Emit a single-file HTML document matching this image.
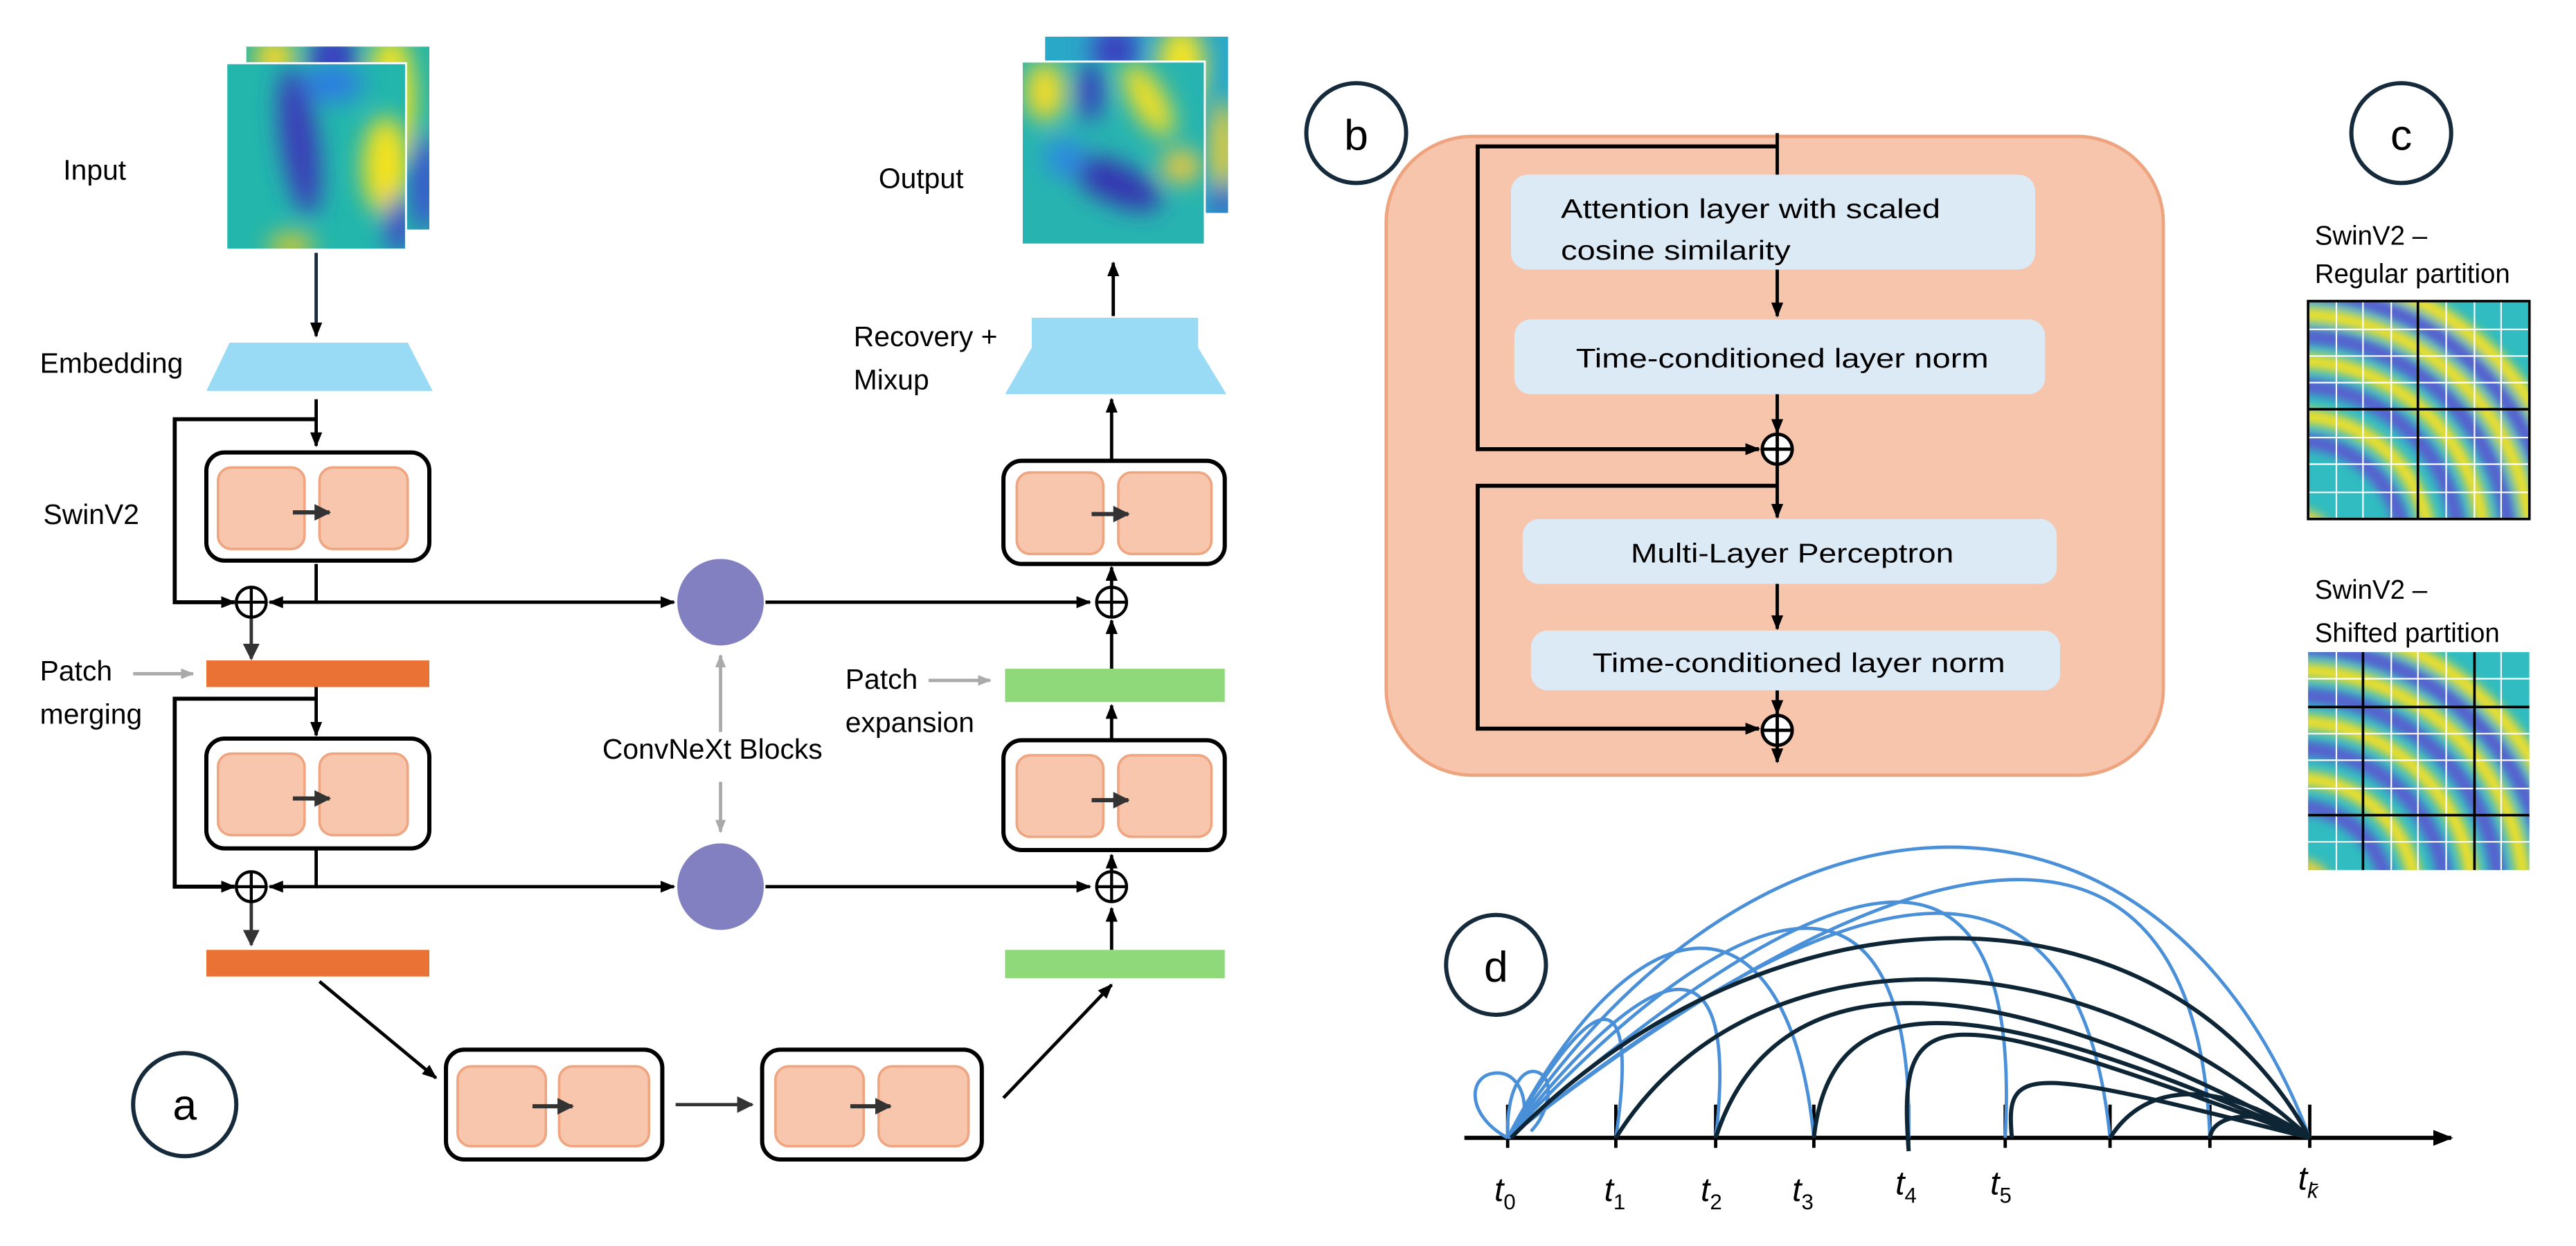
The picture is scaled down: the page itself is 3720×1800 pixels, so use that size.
<!DOCTYPE html>
<html><head><meta charset="utf-8"><style>html,body{margin:0;padding:0;background:#fff}svg{display:block}text{font-family:"Liberation Sans",sans-serif}</style></head>
<body>
<svg width="3720" height="1800" viewBox="0 0 1548 749" preserveAspectRatio="none" xmlns="http://www.w3.org/2000/svg">
<defs>
<marker id="ah" viewBox="0 0 10 10" refX="9" refY="5" markerWidth="9" markerHeight="9" markerUnits="userSpaceOnUse" orient="auto"><path d="M0,1 L10,5 L0,9 z" fill="#000"/></marker>
<marker id="ad" viewBox="0 0 10 10" refX="9" refY="5" markerWidth="10" markerHeight="10" markerUnits="userSpaceOnUse" orient="auto"><path d="M0,0 L10,5 L0,10 z" fill="#333"/></marker>
<marker id="ag" viewBox="0 0 10 10" refX="9" refY="5" markerWidth="8" markerHeight="8" markerUnits="userSpaceOnUse" orient="auto"><path d="M0,1 L10,5 L0,9 z" fill="#aaa"/></marker>
<marker id="ax" viewBox="0 0 10 10" refX="9" refY="5" markerWidth="12" markerHeight="12" markerUnits="userSpaceOnUse" orient="auto"><path d="M0,1 L10,5 L0,9 z" fill="#000"/></marker>
<filter id="bl" x="-50%" y="-50%" width="200%" height="200%"><feGaussianBlur stdDeviation="7"/></filter>
<filter id="bl2" x="-50%" y="-50%" width="200%" height="200%"><feGaussianBlur stdDeviation="3"/></filter>
<clipPath id="cIn1"><rect x="148" y="28" width="110" height="110"/></clipPath>
<clipPath id="cIn2"><rect x="136" y="38" width="108" height="112"/></clipPath>
<clipPath id="cOut1"><rect x="628" y="22" width="110" height="106"/></clipPath>
<clipPath id="cOut2"><rect x="614" y="37" width="110" height="110"/></clipPath>
<clipPath id="cG1"><rect x="1387" y="181" width="133" height="131"/></clipPath>
<clipPath id="cG2"><rect x="1387" y="392" width="133" height="131"/></clipPath>
</defs>

<!-- Input images -->
<g clip-path="url(#cIn1)">
<rect x="148" y="28" width="110" height="110" fill="#25b5a8"/>
<g filter="url(#bl)"><ellipse cx="200" cy="40" rx="14" ry="25" fill="#3a3fc0"/><ellipse cx="235" cy="60" rx="14" ry="40" fill="#f5e423"/><ellipse cx="255" cy="110" rx="8" ry="30" fill="#3a48d0"/><ellipse cx="165" cy="35" rx="12" ry="14" fill="#f4d72a"/></g>
</g>
<g clip-path="url(#cIn2)">
<rect x="136" y="38" width="108" height="112" fill="#22b6ad"/>
<g filter="url(#bl)"><ellipse cx="180" cy="85" rx="11" ry="45" fill="#3b3bb8" transform="rotate(-8 180 85)"/><ellipse cx="232" cy="100" rx="14" ry="30" fill="#f6e21c"/><ellipse cx="240" cy="135" rx="8" ry="18" fill="#3f45c8"/><ellipse cx="200" cy="50" rx="18" ry="12" fill="#2f7ee0"/><ellipse cx="175" cy="148" rx="14" ry="8" fill="#d6c832"/></g>
</g>
<rect x="136" y="38" width="108" height="112" fill="none" stroke="#fff" stroke-width="1.2"/>

<!-- Output images -->
<g clip-path="url(#cOut1)">
<rect x="628" y="22" width="110" height="106" fill="#2aa8c8"/>
<g filter="url(#bl)"><ellipse cx="670" cy="30" rx="14" ry="15" fill="#3a3fc0"/><ellipse cx="710" cy="40" rx="14" ry="25" fill="#f5e423"/><ellipse cx="735" cy="90" rx="8" ry="30" fill="#f0d030"/><ellipse cx="735" cy="120" rx="6" ry="10" fill="#3a40c0"/></g>
</g>
<g clip-path="url(#cOut2)">
<rect x="614" y="37" width="110" height="110" fill="#27b4b0"/>
<g filter="url(#bl)"><ellipse cx="628" cy="55" rx="12" ry="18" fill="#f5dc25"/><ellipse cx="655" cy="55" rx="8" ry="18" fill="#3a3dbd"/><ellipse cx="690" cy="60" rx="10" ry="25" fill="#f6e020" transform="rotate(-30 690 60)"/><ellipse cx="670" cy="110" rx="30" ry="12" fill="#3535b0" transform="rotate(25 670 110)"/><ellipse cx="710" cy="100" rx="12" ry="10" fill="#f2c83a"/><ellipse cx="640" cy="95" rx="12" ry="12" fill="#2f8ae0"/></g>
</g>
<rect x="614" y="37" width="110" height="110" fill="none" stroke="#fff" stroke-width="1.2"/>

<g font-size="17" fill="#000">
<text x="38" y="108">Input</text>
<text x="24" y="224">Embedding</text>
<text x="26" y="315">SwinV2</text>
<text x="24" y="409">Patch</text>
<text x="24" y="435">merging</text>
<text x="528" y="113">Output</text>
<text x="513" y="208">Recovery +</text>
<text x="513" y="234">Mixup</text>
<text x="508" y="414">Patch</text>
<text x="508" y="440">expansion</text>
<text x="362" y="456">ConvNeXt Blocks</text>
</g>

<!-- panel a -->
<g fill="none" stroke="#000" stroke-width="2">
<path d="M190,152 V202" stroke="#1a2a3a" marker-end="url(#ah)"/>
<path d="M190,240 V268" marker-end="url(#ah)"/>
<path d="M190,252 H105 V362 H141" stroke-width="2.4" marker-end="url(#ah)"/>
<path d="M190,339 V362 H162" marker-end="url(#ah)"/>
<path d="M190,362 H405" marker-end="url(#ah)"/>
<path d="M151,371 V396" stroke="#333" marker-end="url(#ad)"/>
<path d="M190,413 V442" marker-end="url(#ah)"/>
<path d="M190,420 H105 V533 H141" stroke-width="2.4" marker-end="url(#ah)"/>
<path d="M190,510 V533 H162" marker-end="url(#ah)"/>
<path d="M190,533 H405" marker-end="url(#ah)"/>
<path d="M151,542 V568" stroke="#333" marker-end="url(#ad)"/>
<path d="M192,590 L262,648" marker-end="url(#ah)"/>
<path d="M406,664 H452" stroke="#333" marker-end="url(#ad)"/>
<path d="M603,660 L668,592" marker-end="url(#ah)"/>
<path d="M668,571 V546" marker-end="url(#ah)"/>
<path d="M460,533 H655" marker-end="url(#ah)"/>
<path d="M668,524 V514" marker-end="url(#ah)"/>
<path d="M668,445 V424" marker-end="url(#ah)"/>
<path d="M668,402 V373" marker-end="url(#ah)"/>
<path d="M460,362 H655" marker-end="url(#ah)"/>
<path d="M668,353 V341" marker-end="url(#ah)"/>
<path d="M668,277 V240" marker-end="url(#ah)"/>
<path d="M669,190 V158" marker-end="url(#ah)"/>
<path d="M80,405 H116" stroke="#aaa" marker-end="url(#ag)"/>
<path d="M558,409 H595" stroke="#aaa" marker-end="url(#ag)"/>
<path d="M433,440 V394" stroke="#aaa" marker-end="url(#ag)"/>
<path d="M433,470 V500" stroke="#aaa" marker-end="url(#ag)"/>
</g>
<polygon points="138,206 245,206 260,235 124,235" fill="#99dbf5"/>
<polygon points="620,191 720,191 720,209 737,237 604,237 620,209" fill="#99dbf5"/>
<rect x="124" y="397" width="134" height="16" fill="#e97234"/>
<rect x="124" y="571" width="134" height="16" fill="#e97234"/>
<rect x="604" y="402" width="132" height="20" fill="#8fd97b"/>
<rect x="604" y="571" width="132" height="17" fill="#8fd97b"/>
<circle cx="433" cy="362" r="26" fill="#8280c0"/>
<circle cx="433" cy="533" r="26" fill="#8280c0"/>

<g>
<g stroke="#000" stroke-width="2.5" fill="#fff">
<rect x="124" y="272" width="134" height="65" rx="11"/>
<rect x="124" y="444" width="134" height="66" rx="11"/>
<rect x="268" y="631" width="130" height="66" rx="11"/>
<rect x="458" y="631" width="132" height="66" rx="11"/>
<rect x="603" y="445" width="133" height="66" rx="11"/>
<rect x="603" y="277" width="133" height="62" rx="11"/>
</g>
<g fill="#f7c6ad" stroke="#efa57f" stroke-width="1.5">
<rect x="131" y="281" width="52" height="49" rx="8"/><rect x="192" y="281" width="53" height="49" rx="8"/>
<rect x="131" y="453" width="52" height="49" rx="8"/><rect x="192" y="453" width="53" height="49" rx="8"/>
<rect x="275" y="641" width="53" height="48" rx="8"/><rect x="336" y="641" width="54" height="48" rx="8"/>
<rect x="466" y="641" width="53" height="48" rx="8"/><rect x="528" y="641" width="54" height="48" rx="8"/>
<rect x="611" y="454" width="52" height="49" rx="8"/><rect x="672" y="454" width="56" height="49" rx="8"/>
<rect x="611" y="284" width="52" height="49" rx="8"/><rect x="672" y="284" width="56" height="49" rx="8"/>
</g>
<g stroke="#333" stroke-width="2.5" fill="none">
<path d="M176,308 H198" marker-end="url(#ad)"/>
<path d="M176,480 H198" marker-end="url(#ad)"/>
<path d="M320,665 H344" marker-end="url(#ad)"/>
<path d="M511,665 H535" marker-end="url(#ad)"/>
<path d="M656,481 H678" marker-end="url(#ad)"/>
<path d="M656,309 H678" marker-end="url(#ad)"/>
</g>
</g>

<!-- plus circles -->
<g stroke="#000" stroke-width="1.8" fill="#fff">
<g><circle cx="151" cy="362" r="9"/><path d="M142,362 H160 M151,353 V371"/></g>
<g><circle cx="151" cy="533" r="9"/><path d="M142,533 H160 M151,524 V542"/></g>
<g><circle cx="668" cy="362" r="9"/><path d="M659,362 H677 M668,353 V371"/></g>
<g><circle cx="668" cy="533" r="9"/><path d="M659,533 H677 M668,524 V542"/></g>
</g>

<!-- panel b -->
<rect x="833" y="82" width="467" height="384" rx="52" fill="#f6c5ab" stroke="#eea47f" stroke-width="2"/>
<g fill="none" stroke="#000" stroke-width="2">
<path d="M1068,80 V105"/>
<path d="M1068,88 H888 V270 H1057" stroke-width="2.4" marker-end="url(#ah)"/>
<path d="M1068,162 V190" marker-end="url(#ah)"/>
<path d="M1068,237 V260" marker-end="url(#ah)"/>
<path d="M1068,279 V311" marker-end="url(#ah)"/>
<path d="M1068,292 H888 V438 H1057" stroke-width="2.4" marker-end="url(#ah)"/>
<path d="M1068,351 V378" marker-end="url(#ah)"/>
<path d="M1068,415 V429" marker-end="url(#ah)"/>
<path d="M1068,448 V458" marker-end="url(#ah)"/>
</g>
<g fill="#dceaf6">
<rect x="908" y="105" width="315" height="57" rx="10"/>
<rect x="910" y="192" width="319" height="45" rx="10"/>
<rect x="915" y="312" width="321" height="39" rx="10"/>
<rect x="920" y="379" width="318" height="36" rx="10"/>
</g>
<g font-size="16" fill="#000">
<text x="938" y="131" textLength="228" lengthAdjust="spacingAndGlyphs">Attention layer with scaled</text>
<text x="938" y="156" textLength="138" lengthAdjust="spacingAndGlyphs">cosine similarity</text>
<text x="947" y="221" textLength="248" lengthAdjust="spacingAndGlyphs">Time-conditioned layer norm</text>
<text x="980" y="338" textLength="194" lengthAdjust="spacingAndGlyphs">Multi-Layer Perceptron</text>
<text x="957" y="404" textLength="248" lengthAdjust="spacingAndGlyphs">Time-conditioned layer norm</text>
</g>
<g stroke="#000" stroke-width="2" fill="#fff">
<g><circle cx="1068" cy="270" r="9"/><path d="M1059,270 H1077 M1068,261 V279"/></g>
<g><circle cx="1068" cy="439" r="9"/><path d="M1059,439 H1077 M1068,430 V448"/></g>
</g>

<!-- panel c -->
<g font-size="16" fill="#000">
<text x="1391" y="147">SwinV2 –</text>
<text x="1391" y="170">Regular partition</text>
<text x="1391" y="360">SwinV2 –</text>
<text x="1391" y="386">Shifted partition</text>
</g>
<g clip-path="url(#cG1)">
<rect x="1387" y="181" width="133" height="131" fill="#30bcc0"/>
<g fill="none" filter="url(#bl2)" stroke-width="9">
<circle cx="1380" cy="330" r="20" stroke="#e6cf3a"/>
<circle cx="1380" cy="330" r="65" stroke="#5a5ad0"/>
<circle cx="1380" cy="330" r="80" stroke="#f6e028"/>
<circle cx="1380" cy="330" r="98" stroke="#5a5ad0"/>
<circle cx="1380" cy="330" r="113" stroke="#f6e028"/>
<circle cx="1380" cy="330" r="128" stroke="#5a5ad0"/>
<circle cx="1380" cy="330" r="141" stroke="#f6e028"/>
<circle cx="1380" cy="330" r="154" stroke="#5a5ad0"/>
<circle cx="1380" cy="330" r="166" stroke="#f6e028"/>
</g>
<g stroke="#fff" stroke-width="0.9">
<path d="M1404,181V312M1420,181V312M1437,181V312M1470,181V312M1487,181V312M1503,181V312"/>
<path d="M1387,198H1520M1387,214H1520M1387,230H1520M1387,263H1520M1387,279H1520M1387,296H1520"/>
</g>
</g>
<rect x="1387" y="181" width="133" height="131" fill="none" stroke="#000" stroke-width="1.5"/>
<path d="M1453,181V312M1387,246H1520" stroke="#000" stroke-width="1.5"/>
<g clip-path="url(#cG2)">
<rect x="1387" y="392" width="133" height="131" fill="#30bcc0"/>
<g fill="none" filter="url(#bl2)" stroke-width="9">
<circle cx="1380" cy="540" r="20" stroke="#e6cf3a"/>
<circle cx="1380" cy="540" r="55" stroke="#5a5ad0"/>
<circle cx="1380" cy="540" r="72" stroke="#f6e028"/>
<circle cx="1380" cy="540" r="90" stroke="#5a5ad0"/>
<circle cx="1380" cy="540" r="106" stroke="#f6e028"/>
<circle cx="1380" cy="540" r="122" stroke="#5a5ad0"/>
<circle cx="1380" cy="540" r="137" stroke="#f6e028"/>
<circle cx="1380" cy="540" r="151" stroke="#5a5ad0"/>
<circle cx="1380" cy="540" r="164" stroke="#f6e028"/>
</g>
<g stroke="#fff" stroke-width="0.9">
<path d="M1404,392V523M1420,392V523M1437,392V523M1453,392V523M1470,392V523M1487,392V523M1503,392V523"/>
<path d="M1387,408H1520M1387,425H1520M1387,441H1520M1387,457H1520M1387,474H1520M1387,490H1520M1387,506H1520"/>
</g>
</g>
<path d="M1420,392V523M1487,392V523M1387,425H1520M1387,490H1520" stroke="#000" stroke-width="1.5"/>

<!-- panel d -->
<path d="M880,684 H1473" stroke="#000" stroke-width="2.5" marker-end="url(#ax)" fill="none"/>
<g stroke="#000" stroke-width="2">
<path d="M906,664V690M971,664V690M1031,664V690M1090,664V690M1147,664V690M1205,664V690M1268,664V690M1328,664V690M1388,664V690"/>
</g>
<g fill="none" stroke="#4a90d9" stroke-width="2">
<path d="M906,684 C960,589 985,589 971,684"/>
<path d="M906,684 C1000,565 1045,565 1031,684"/>
<path d="M906,684 C985,532 1075,532 1090,684"/>
<path d="M906,684 C1060,516 1150,516 1147,684"/>
<path d="M906,684 C1120,495 1215,495 1205,684"/>
<path d="M906,684 C1130,504 1250,504 1268,684"/>
<path d="M906,684 C1170,477 1320,477 1328,684"/>
<path d="M906,684 C1060,451 1300,451 1388,684"/>
<path d="M906,684 C880,670 882,645 900,645 C918,645 922,678 906,684"/>
<path d="M906,684 C905,655 915,640 925,645 C935,650 930,670 920,680"/>
</g>
<g fill="none" stroke="#0d2535" stroke-width="2.5">
<path d="M908,684 C1065,524 1300,524 1388,684"/>
<path d="M971,684 C1050,557 1250,557 1388,684"/>
<path d="M1031,684 C1066,576 1190,576 1388,684"/>
<path d="M1090,684 C1100,592 1180,592 1388,684"/>
<path d="M1147,692 C1140,600 1160,600 1388,684"/>
<path d="M1209,684 C1205,640 1215,640 1388,684"/>
<path d="M1268,684 C1290,649 1335,649 1388,684"/>
<path d="M1328,684 C1330,667 1365,667 1388,684"/>
</g>
<g font-family="Liberation Serif, serif" font-style="italic" font-size="20" fill="#000">
<text x="898" y="722">t<tspan font-size="13" dy="5" font-style="normal">0</tspan></text>
<text x="964" y="722">t<tspan font-size="13" dy="5" font-style="normal">1</tspan></text>
<text x="1022" y="722">t<tspan font-size="13" dy="5" font-style="normal">2</tspan></text>
<text x="1077" y="722">t<tspan font-size="13" dy="5" font-style="normal">3</tspan></text>
<text x="1139" y="718">t<tspan font-size="13" dy="5" font-style="normal">4</tspan></text>
<text x="1196" y="718">t<tspan font-size="13" dy="5" font-style="normal">5</tspan></text>
<text x="1381" y="715">t<tspan font-size="13" dy="5">k̄</tspan></text>
</g>

<!-- label circles -->
<g fill="#fff" stroke="#152a3a" stroke-width="2.5">
<circle cx="111" cy="664" r="31"/>
<circle cx="815" cy="80" r="30"/>
<circle cx="1443" cy="80" r="30"/>
<circle cx="899" cy="580" r="30"/>
</g>
<g font-size="26" fill="#000" text-anchor="middle">
<text x="111" y="673">a</text>
<text x="815" y="90">b</text>
<text x="1443" y="90">c</text>
<text x="899" y="590">d</text>
</g>
</svg>
</body></html>
